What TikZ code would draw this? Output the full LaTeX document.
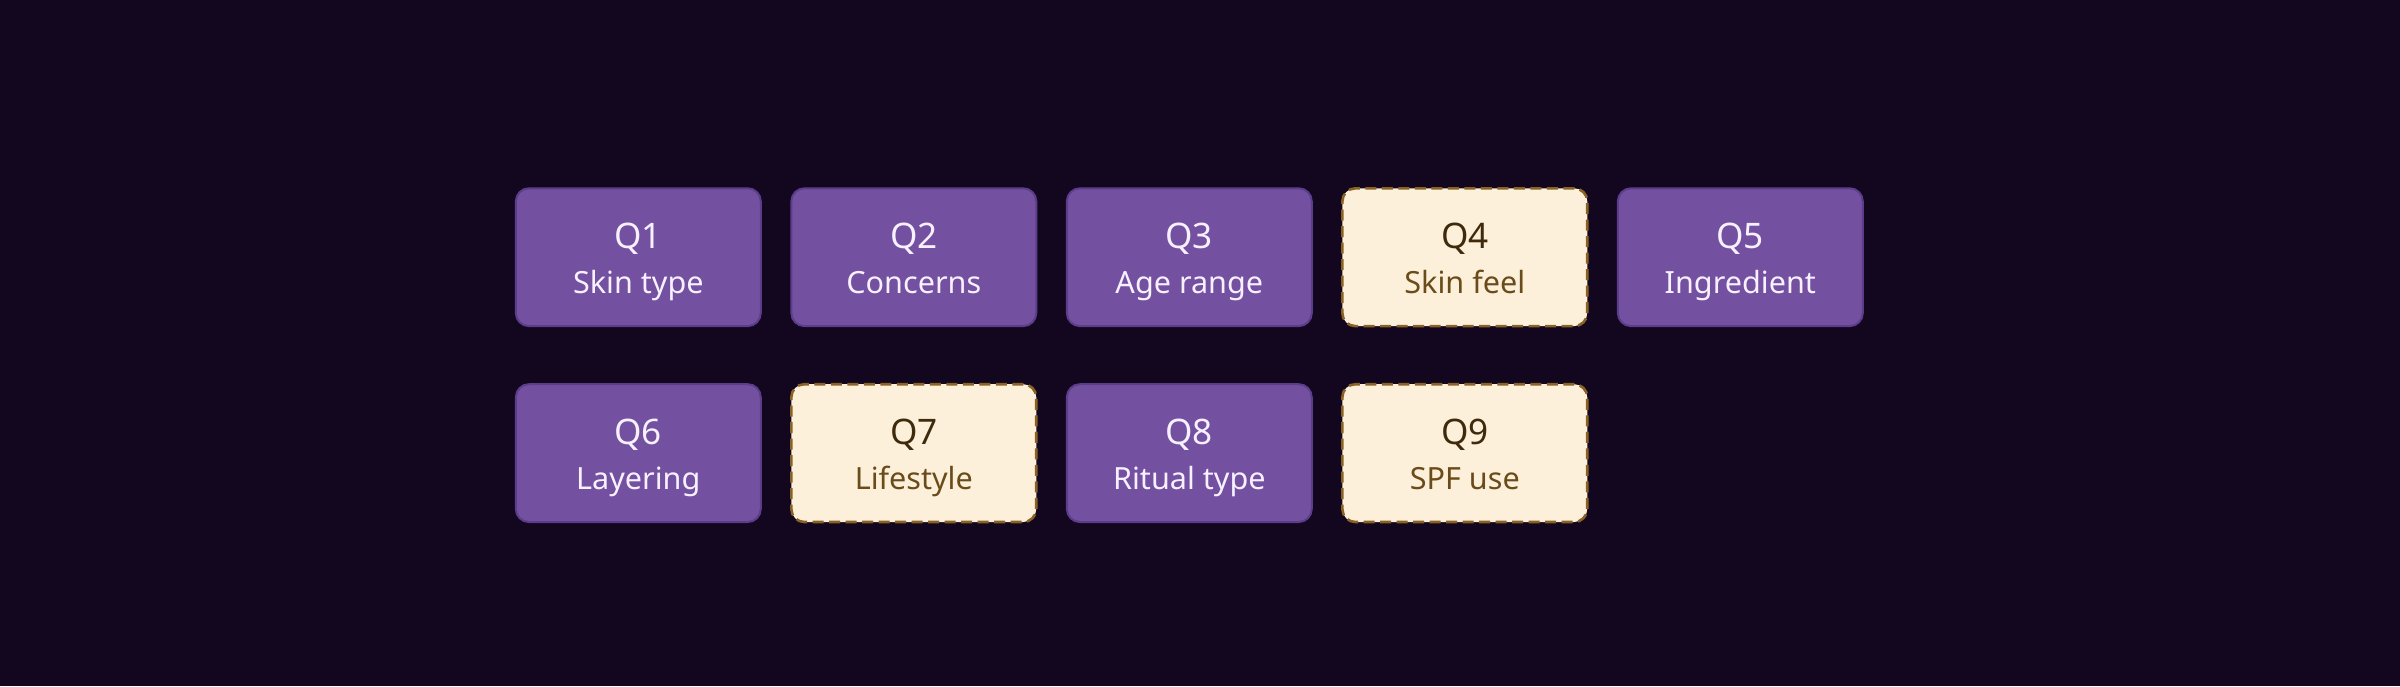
\documentclass[tikz,border=0pt]{standalone}
\usepackage{fontspec}
\setmainfont{Noto Sans}
\definecolor{bg}{HTML}{13071F}
\definecolor{pfill}{HTML}{7350A0}
\definecolor{pborder}{HTML}{5C3D8C}
\definecolor{ptext}{HTML}{F7F0FF}
\definecolor{cfill}{HTML}{FDF0DB}
\definecolor{cborder}{HTML}{8A6226}
\definecolor{cnum}{HTML}{3E2A0C}
\definecolor{clab}{HTML}{6A4B1A}
\tikzset{
  qbox/.style={rounded corners=1.3mm, minimum width=24.49mm, minimum height=13.78mm, inner sep=0pt, line width=0.2mm},
  pbox/.style={qbox, fill=pfill, draw=pborder},
  cbox/.style={qbox, fill=cfill, draw=cborder, line width=0.26mm, dash pattern=on 1.1mm off 0.55mm},
  qnum/.style={anchor=base, inner sep=0pt, font=\fontsize{10}{12}\selectfont},
  qlab/.style={anchor=base, inner sep=0pt, font=\fontsize{8.7}{10}\selectfont},
}
\begin{document}
\begin{tikzpicture}[x=0.1mm,y=-0.1mm]
\fill[bg] (0,0) rectangle (2400,686);
\useasboundingbox (0,0) rectangle (2400,686);
\foreach \i/\lab/\kind/\col/\row in {
  1/Skin type/p/0/0, 2/Concerns/p/1/0, 3/Age range/p/2/0, 4/Skin feel/c/3/0, 5/Ingredient/p/4/0,
  6/Layering/p/0/1, 7/Lifestyle/c/1/1, 8/Ritual type/p/2/1, 9/SPF use/c/3/1}{
  \node[\kind box] (q\i) at ({638.3+275.5*\col},{257.2+195.9*\row}) {};
  \if\kind p
    \node[qnum, text=ptext] (q\i num) at ([yshift=0.83mm]q\i.center) {Q\i};
    \node[qlab, text=ptext] (q\i lab) at ([yshift=-3.64mm]q\i.center) {\lab};
  \else
    \node[qnum, text=cnum] (q\i num) at ([yshift=0.83mm]q\i.center) {Q\i};
    \node[qlab, text=clab] (q\i lab) at ([yshift=-3.64mm]q\i.center) {\lab};
  \fi
}
\end{tikzpicture}
\end{document}
